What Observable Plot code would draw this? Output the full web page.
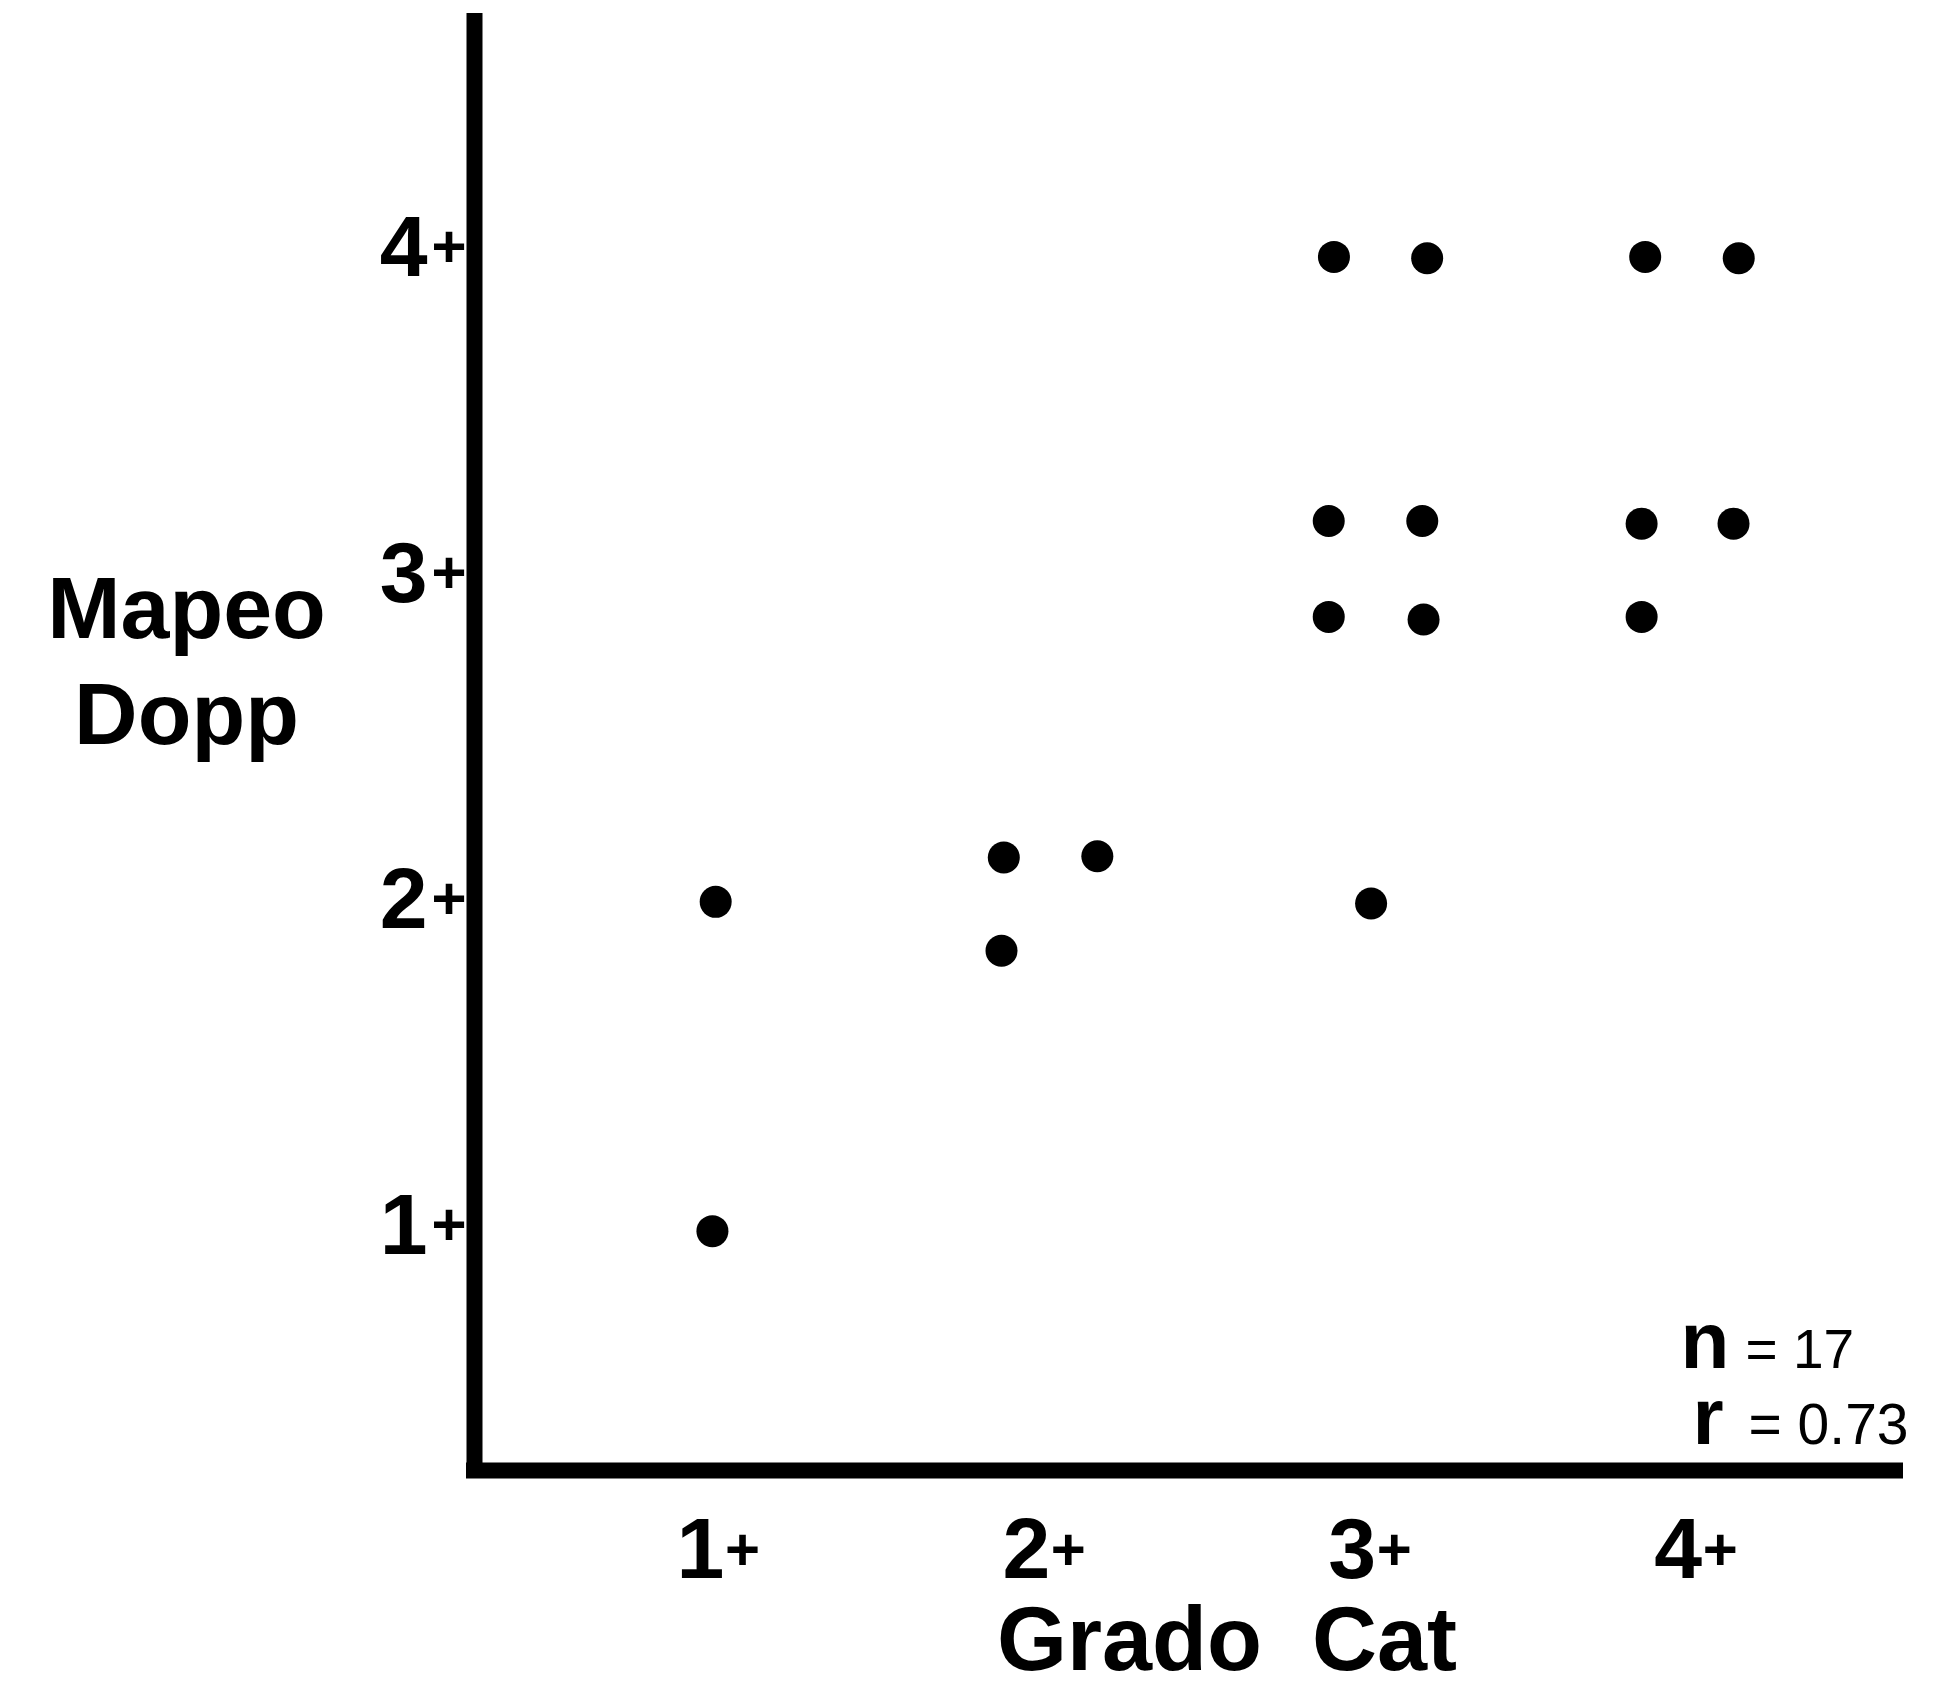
<!DOCTYPE html>
<html>
<head>
<meta charset="utf-8">
<script src="https://cdn.jsdelivr.net/npm/d3@7"></script>
<script src="https://cdn.jsdelivr.net/npm/@observablehq/plot@0.6"></script>
<style>
  html, body { margin: 0; padding: 0; background: #fff; }
  #chart { width: 1953px; height: 1689px; }
</style>
</head>
<body>
<div id="chart"></div>
<script>
// ---- data ----
const gradoCat  = [1.01, 1.00, 1.894, 2.181, 1.887, 3.021, 2.907, 3.193, 2.891, 3.178, 2.891, 3.182, 3.862, 4.149, 3.851, 4.133, 3.851];
const mapeoDopp = [2.01, 1.00, 2.146, 2.150, 1.860, 2.005, 3.988, 3.984, 3.178, 3.178, 2.884, 2.876, 3.988, 3.984, 3.170, 3.170, 2.884];
const ticks = [1, 2, 3, 4];
const tickSuffix = "+";
const xDomain = [0.27, 4.63];
const yDomain = [0.266, 4.71];
const yTitleLines = ["Mapeo", "Dopp"];
const xTitle = "Grado\u00a0 Cat";
const statNames = ["n", "r"];
const statValues = ["= 17", "= 0.73"];

const points = gradoCat.map((g, i) => ({x: g, y: mapeoDopp[i]}));
const font = "Liberation Sans, Arial, Helvetica, sans-serif";

const chart = Plot.plot({
  width: 1953,
  height: 1689,
  marginLeft: 474,
  marginRight: 58,
  marginTop: 21,
  marginBottom: 219,
  style: {background: "white", fontFamily: font, color: "black"},
  x: {domain: xDomain, axis: null},
  y: {domain: yDomain, axis: null},
  marks: [
    // axes lines
    Plot.ruleX([xDomain[0]], {y1: yDomain[0], y2: yDomain[1], stroke: "black", strokeWidth: 16, strokeLinecap: "square"}),
    Plot.ruleY([yDomain[0]], {x1: xDomain[0], x2: xDomain[1], stroke: "black", strokeWidth: 16, strokeLinecap: "square"}),
    // y tick labels
    Plot.text(ticks, {x: () => xDomain[0], y: d => d, text: d => String(d), textAnchor: "end", lineAnchor: "middle", dx: -47, dy: -5, fontSize: 86, fontWeight: "bold", fill: "black"}),
    Plot.text(ticks, {x: () => xDomain[0], y: d => d, text: () => tickSuffix, textAnchor: "end", lineAnchor: "middle", dx: -8, dy: -5, fontSize: 60, fontWeight: "bold", fill: "black"}),
    // x tick labels
    Plot.text(ticks, {x: d => d, y: () => yDomain[0], text: d => String(d), textAnchor: "middle", lineAnchor: "middle", dx: -12, dy: 80, fontSize: 86, fontWeight: "bold", fill: "black"}),
    Plot.text(ticks, {x: d => d, y: () => yDomain[0], text: () => tickSuffix, textAnchor: "middle", lineAnchor: "middle", dx: 30, dy: 80, fontSize: 60, fontWeight: "bold", fill: "black"}),
    // axis titles
    Plot.text([yTitleLines.join("\n")], {frameAnchor: "top-left", text: d => d, textAnchor: "middle", lineAnchor: "top", lineHeight: 1.2045, dx: -288, dy: 541, fontSize: 88, fontWeight: "bold", fill: "black"}),
    Plot.text([xTitle], {frameAnchor: "bottom", text: d => d, textAnchor: "middle", lineAnchor: "bottom", dx: 42, dy: 199, fontSize: 90, fontWeight: "bold", fill: "black"}),
    // stats
    Plot.text([statNames[0]], {frameAnchor: "bottom-right", text: d => d, textAnchor: "start", lineAnchor: "bottom", dx: -215, dy: -103, fontSize: 80, fontWeight: "bold", fill: "black"}),
    Plot.text([statValues[0]], {frameAnchor: "bottom-right", text: d => d, textAnchor: "start", lineAnchor: "bottom", dx: -150, dy: -103, fontSize: 55, fill: "black"}),
    Plot.text([statNames[1]], {frameAnchor: "bottom-right", text: d => d, textAnchor: "start", lineAnchor: "bottom", dx: -203, dy: -27, fontSize: 80, fontWeight: "bold", fill: "black"}),
    Plot.text([statValues[1]], {frameAnchor: "bottom-right", text: d => d, textAnchor: "start", lineAnchor: "bottom", dx: -147, dy: -27, fontSize: 57, fill: "black"}),
    // data points
    Plot.dot(points, {x: "x", y: "y", r: 16, fill: "black", stroke: "none"})
  ]
});
document.getElementById("chart").appendChild(chart);
</script>
</body>
</html>
